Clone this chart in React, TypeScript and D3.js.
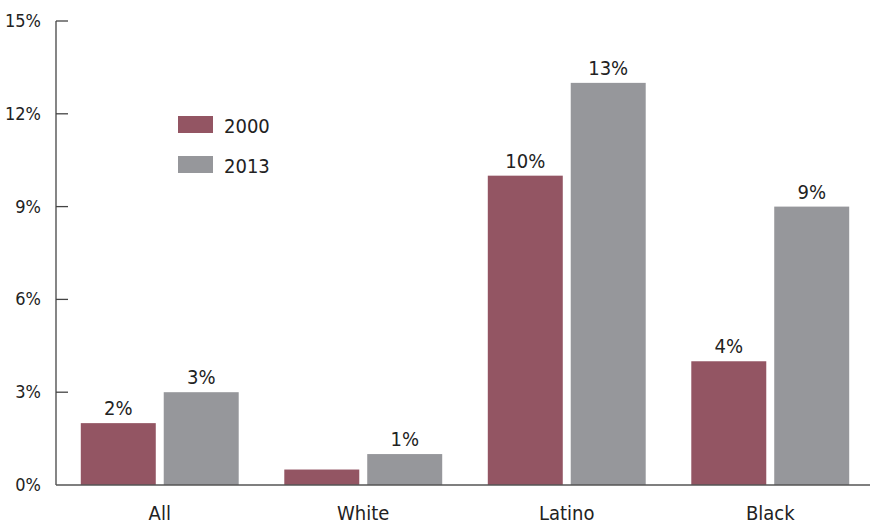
import React from "react";
import * as d3 from "d3";

const categories = ["All", "White", "Latino", "Black"];
const years = ["2000", "2013"];
const values2000 = [2, 0.5, 10, 4];
const values2013 = [3, 1, 13, 9];
const valueLabels2000 = ["2%", "", "10%", "4%"];
const valueLabels2013 = ["3%", "1%", "13%", "9%"];
const yTicks = [0, 3, 6, 9, 12, 15];
const colors = ["#935563", "#96979b"];

const W = 870;
const H = 525;
const FONT = "'DejaVu Sans Condensed', 'Liberation Sans Narrow', 'Arial Narrow', sans-serif";

export default function App() {
  const axisX = 56;
  const y = d3.scaleLinear().domain([0, 15]).range([485, 21]);
  const x0 = d3
    .scaleBand<string>()
    .domain(categories)
    .range([58, 872])
    .paddingInner(0.224)
    .paddingOuter(0.112);
  const x1 = d3
    .scaleBand<string>()
    .domain(years)
    .range([0, x0.bandwidth()])
    .paddingInner(0.096);
  const series = [values2000, values2013];
  const labels = [valueLabels2000, valueLabels2013];

  return (
    <svg
      width={W}
      height={H}
      style={{ position: "absolute", left: 0, top: 0, background: "#fff" }}
      fontFamily={FONT}
    >
      {categories.map((c, i) =>
        years.map((yr, j) => {
          const v = series[j][i];
          const bx = (x0(c) as number) + (x1(yr) as number);
          return (
            <g key={c + yr}>
              <rect
                x={bx}
                y={y(v)}
                width={x1.bandwidth()}
                height={y(0) - y(v)}
                fill={colors[j]}
              />
              {labels[j][i] && (
                <text
                  x={bx + x1.bandwidth() / 2}
                  y={y(v) - 8}
                  textAnchor="middle"
                  fontSize={20}
                  fill="#222"
                >
                  {labels[j][i]}
                </text>
              )}
            </g>
          );
        })
      )}
      <line x1={axisX} x2={axisX} y1={y(15)} y2={y(0)} stroke="#444" strokeWidth={1.3} />
      <line x1={axisX} x2={W} y1={y(0)} y2={y(0)} stroke="#555" strokeWidth={1.3} />
      {yTicks.map((t) => (
        <g key={t}>
          {t > 0 && (
            <line x1={axisX} x2={axisX + 12} y1={y(t)} y2={y(t)} stroke="#444" strokeWidth={1.3} />
          )}
          <text x={41} y={y(t) + 6} textAnchor="end" fontSize={18} fill="#222">
            {t + "%"}
          </text>
        </g>
      ))}
      {categories.map((c) => (
        <text
          key={c}
          x={(x0(c) as number) + x0.bandwidth() / 2}
          y={y(0) + 35}
          textAnchor="middle"
          fontSize={20}
          fill="#222"
        >
          {c}
        </text>
      ))}
      {years.map((yr, j) => (
        <g key={yr} transform={`translate(178, ${116 + j * 40})`}>
          <rect width={35} height={17} fill={colors[j]} />
          <text x={46} y={17} fontSize={20} fill="#222">
            {yr}
          </text>
        </g>
      ))}
    </svg>
  );
}
